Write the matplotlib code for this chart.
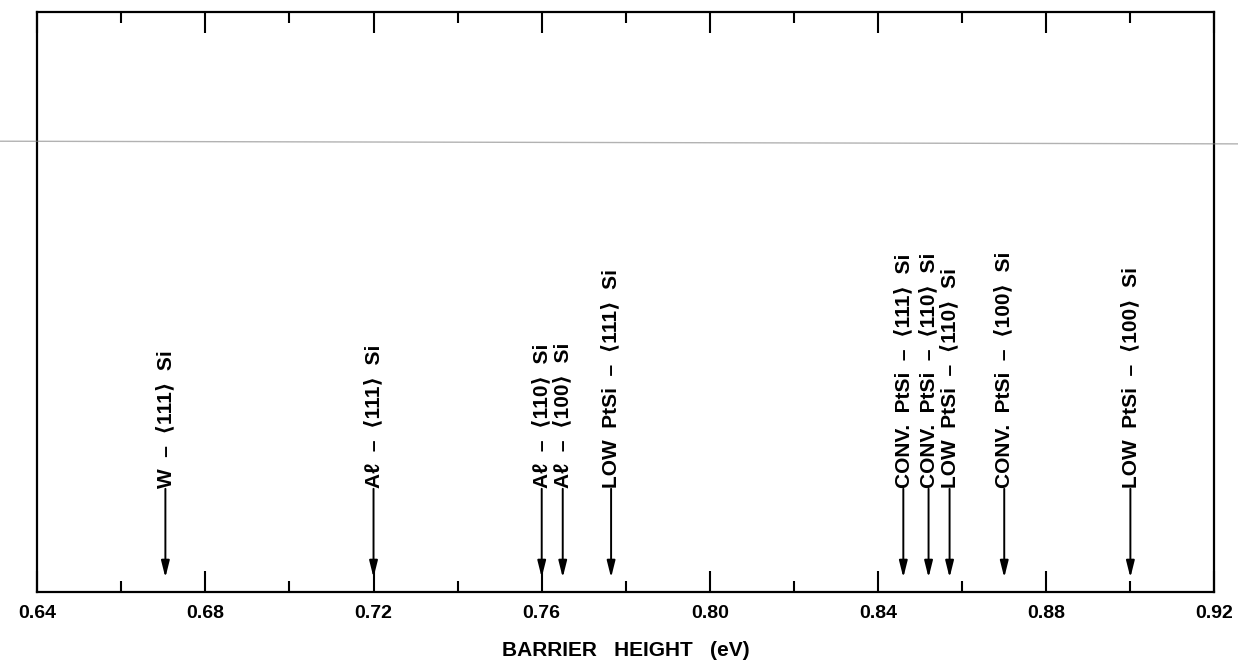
#Barrier heights of several metal / silicide contacts on Si, marked along an energy axis

import matplotlib.pyplot as plt
from matplotlib.lines import Line2D

plt.rcParams['font.family'] = ['Liberation Sans', 'DejaVu Sans']

# contact -> barrier height (eV)
contacts = ["W  \u2013  \u27e8111\u27e9  Si",
            "A\u2113  \u2013  \u27e8111\u27e9  Si",
            "A\u2113  \u2013  \u27e8110\u27e9  Si",
            "A\u2113  \u2013  \u27e8100\u27e9  Si",
            "LOW  PtSi  \u2013  \u27e8111\u27e9  Si",
            "CONV.  PtSi  \u2013  \u27e8111\u27e9  Si",
            "CONV.  PtSi  \u2013  \u27e8110\u27e9  Si",
            "LOW  PtSi  \u2013  \u27e8110\u27e9  Si",
            "CONV.  PtSi  \u2013  \u27e8100\u27e9  Si",
            "LOW  PtSi  \u2013  \u27e8100\u27e9  Si"]
barrier_heights = [0.6705, 0.720, 0.760, 0.765, 0.7765,
                   0.846, 0.852, 0.857, 0.870, 0.900]

major_ticks = [0.64, 0.68, 0.72, 0.76, 0.80, 0.84, 0.88, 0.92]
minor_ticks = [0.66, 0.70, 0.74, 0.78, 0.82, 0.86, 0.90]
tick_labels = ["0.64", "0.68", "0.72", "0.76", "0.80", "0.84", "0.88", "0.92"]

fig = plt.figure(figsize=(12.38, 6.63), dpi=100)
ax = fig.add_axes([0.030, 0.107, 0.951, 0.875])
ax.set_xlim(0.64, 0.92)
ax.set_ylim(0, 1)

for x, name in zip(barrier_heights, contacts):
    ax.annotate('', xy=(x, 0.025), xytext=(x, 0.178),
                arrowprops=dict(arrowstyle='-|>,head_length=1.0,head_width=0.25',
                                color='k', lw=1.4, shrinkA=0, shrinkB=0))
    ax.text(x, 0.180, name, rotation=90, ha='center', va='bottom',
            fontsize=15, fontweight='bold', color='k')

ax.set_xticks(major_ticks)
ax.set_xticklabels(tick_labels)
ax.set_xticks(minor_ticks, minor=True)
ax.set_yticks([])
ax.tick_params(axis='x', which='major', direction='in', length=15, width=1.5,
               top=True, labelsize=14, pad=9)
ax.tick_params(axis='x', which='minor', direction='in', length=8, width=1.5, top=True)
for lbl in ax.get_xticklabels():
    lbl.set_fontweight('bold')
for s in ax.spines.values():
    s.set_linewidth(1.6)

ax.set_xlabel("BARRIER   HEIGHT   (eV)", fontsize=15, fontweight='bold', labelpad=14)

# faint line across the sheet
fig.add_artist(Line2D([0.0, 1.0], [0.787, 0.783], transform=fig.transFigure,
                      color='0.5', lw=1.0, alpha=0.6))

fig.savefig('out.png', dpi=100)
